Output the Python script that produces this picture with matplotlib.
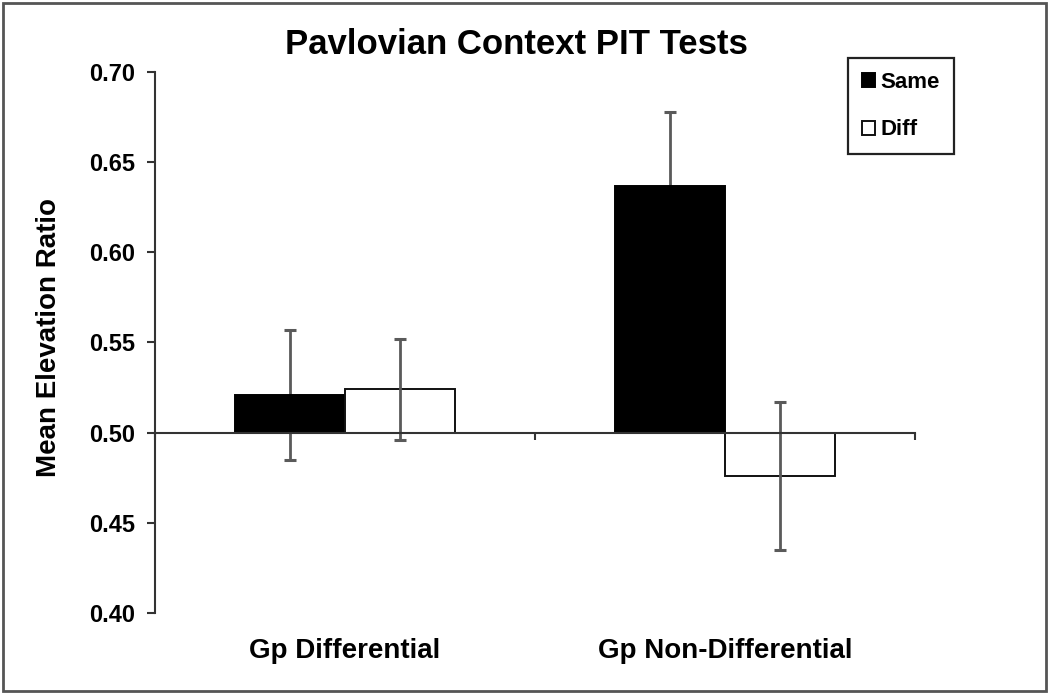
import matplotlib
matplotlib.use('Agg')
import matplotlib.pyplot as plt
from matplotlib.patches import Rectangle
import numpy as np

plt.rcParams['font.family'] = ['Liberation Sans', 'DejaVu Sans']
plt.rcParams['font.weight'] = 'bold'

# data
groups = ['Gp Differential', 'Gp Non-Differential']
same_mean = [0.521, 0.637]
same_err = [0.036, 0.041]
diff_mean = [0.524, 0.476]
diff_err = [0.028, 0.041]
baseline = 0.50
yticks = [0.40, 0.45, 0.50, 0.55, 0.60, 0.65, 0.70]

fig = plt.figure(figsize=(10.5, 6.94), dpi=100)
ax = fig.add_axes([155 / 1050, 1 - 613 / 694, 760 / 1050, 541 / 694])

x = np.arange(len(groups))
w = 0.29
same_h = np.array(same_mean) - baseline
diff_h = np.array(diff_mean) - baseline

# Same bars hide their own error bars, Diff error bars sit on top of the bars
b1 = ax.bar(x - w / 2, same_h, width=w, bottom=baseline, color='black',
            edgecolor='black', linewidth=1.4, label='Same', zorder=2)
ax.errorbar(x - w / 2, same_mean, yerr=same_err, fmt='none', ecolor='#5a5a5a',
            elinewidth=2, capsize=4.5, capthick=2.2, zorder=1)
b2 = ax.bar(x + w / 2, diff_h, width=w, bottom=baseline, color='white',
            edgecolor='#111111', linewidth=1.4, label='Diff', zorder=2)
ax.errorbar(x + w / 2, diff_mean, yerr=diff_err, fmt='none', ecolor='#5a5a5a',
            elinewidth=2, capsize=4.5, capthick=2.2, zorder=3)

ax.set_xlim(-0.5, 1.5)
ax.set_ylim(0.40, 0.70)
ax.set_yticks(yticks)
ax.set_yticklabels([f'{v:.2f}' for v in yticks], fontsize=17, fontweight='bold')

ax.spines['top'].set_visible(False)
ax.spines['right'].set_visible(False)
ax.spines['left'].set_color('#333333')
ax.spines['left'].set_linewidth(1.5)
ax.spines['bottom'].set_position(('data', baseline))
ax.spines['bottom'].set_color('#333333')
ax.spines['bottom'].set_linewidth(1.5)
ax.spines['bottom'].set_zorder(4)

ax.set_xticks([-0.5, 0.5, 1.5])
ax.set_xticklabels(['', '', ''])
ax.tick_params(axis='x', direction='out', length=5, width=1.5, color='#333333')
ax.tick_params(axis='y', direction='out', length=6, width=1.5, color='#333333', pad=8)

for i, g in enumerate(groups):
    ax.text(x[i], -0.07, g, transform=ax.get_xaxis_transform(),
            ha='center', va='center', fontsize=20, fontweight='bold')

ax.set_ylabel('Mean Elevation Ratio', fontsize=20, fontweight='bold')
ax.yaxis.set_label_coords(-0.122, 0.51)

fig.text(516 / 1050, 1 - 44 / 694, 'Pavlovian Context PIT Tests',
         ha='center', va='center', fontsize=25, fontweight='bold')

leg = ax.legend(handles=[b1, b2], loc='upper left',
                bbox_to_anchor=(848 / 1050, 1 - 58 / 694),
                bbox_transform=fig.transFigure, fontsize=16,
                handlelength=0.6, handleheight=0.6, handletextpad=0.25,
                labelspacing=1.2, borderpad=0.62, borderaxespad=0,
                fancybox=False, framealpha=1)
leg.get_frame().set_edgecolor('#222222')
leg.get_frame().set_linewidth(1.6)
for t in leg.get_texts():
    t.set_fontweight('bold')

fig.patches.append(Rectangle((3 / 1050, 3 / 694), 1043 / 1050, 688 / 694,
                             transform=fig.transFigure, fill=False,
                             edgecolor='#555555', linewidth=2))

fig.savefig('out.png', dpi=100)
plt.close(fig)
